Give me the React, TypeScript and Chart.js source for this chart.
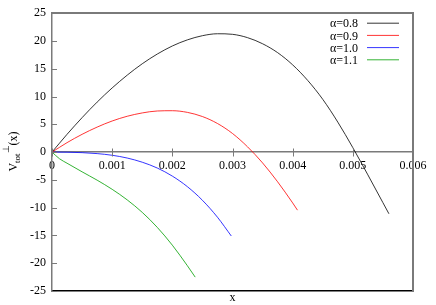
import React, { useEffect, useRef } from "react";
import { Chart, registerables } from "chart.js";

Chart.register(...registerables);

// ---- data ----
const X_08 = [0, 0.00025, 0.0005, 0.00075, 0.001, 0.00125, 0.0015, 0.00175, 0.002, 0.00225, 0.0025, 0.00275, 0.003, 0.00325, 0.0035, 0.00375, 0.004, 0.00425, 0.0045, 0.00475, 0.005, 0.00525, 0.0055, 0.0056];
const V_08 = [0, 3.2, 6.2, 9.0, 11.55, 13.85, 15.9, 17.65, 19.1, 20.2, 20.95, 21.3, 21.2, 20.6, 19.5, 17.9, 15.7, 12.9, 9.5, 5.4, 0.8, -4.1, -9.1, -11.1];

const X_09 = [0, 0.00025, 0.0005, 0.00075, 0.001, 0.00125, 0.0015, 0.00175, 0.002, 0.00225, 0.0025, 0.00275, 0.003, 0.00325, 0.0035, 0.00375, 0.004, 0.00408];
const V_09 = [0, 1.7, 3.2, 4.5, 5.6, 6.45, 7.05, 7.4, 7.45, 7.15, 6.4, 5.15, 3.35, 0.95, -1.95, -5.35, -9.15, -10.45];

const X_10 = [0, 0.00025, 0.0005, 0.00075, 0.001, 0.00125, 0.0015, 0.00175, 0.002, 0.00225, 0.0025, 0.00275, 0.00298];
const V_10 = [0, -0.02, -0.1, -0.27, -0.57, -1.07, -1.82, -2.87, -4.32, -6.22, -8.67, -11.72, -15.1];

const X_11 = [0, 0.000125, 0.00025, 0.0005, 0.00075, 0.001, 0.00125, 0.0015, 0.00175, 0.002, 0.00225, 0.00238];
const V_11 = [0, -1.2, -2.0, -3.55, -5.05, -6.7, -8.6, -10.85, -13.55, -16.75, -20.45, -22.5];

const SERIES_LABELS = ["α=0.8", "α=0.9", "α=1.0", "α=1.1"];
const SERIES_COLORS = ["#000000", "#ff0000", "#0000ff", "#00a000"];

const X_MIN = 0;
const X_MAX = 0.006;
const X_STEP = 0.001;
const Y_MIN = -25;
const Y_MAX = 25;
const Y_STEP = 5;

const X_TITLE = "x";
const Y_TITLE_PARTS = ["V", "tot", "⊥", "(x)"];

const FONT = '"Liberation Serif", "Times New Roman", serif';
const FRAME = "#7a7a7a";

const pairs = (xs: number[], ys: number[]) => xs.map((x, i) => ({ x, y: ys[i] }));

// gnuplot-style inward tick marks, placed through the chart's own scales
const tickMarksPlugin = {
  id: "gpTicks",
  afterDraw(chart: any) {
    const { ctx, chartArea, scales } = chart;
    const xs = scales.x;
    const ys = scales.y;
    const zeroY = Math.round(ys.getPixelForValue(0)) + 0.5;
    ctx.save();
    ctx.strokeStyle = FRAME;
    ctx.lineWidth = 1;
    ctx.beginPath();
    xs.ticks.forEach((t: any) => {
      const px = Math.round(xs.getPixelForValue(t.value)) + 0.5;
      ctx.moveTo(px, zeroY - 4);
      ctx.lineTo(px, zeroY + 4);
    });
    ys.ticks.forEach((t: any) => {
      const py = Math.round(ys.getPixelForValue(t.value)) + 0.5;
      ctx.moveTo(chartArea.left, py);
      ctx.lineTo(chartArea.left + 5, py);
    });
    ctx.stroke();
    ctx.restore();
  },
};

const legendPlugin = {
  id: "gpLegend",
  afterDraw(chart: any) {
    const { ctx, chartArea } = chart;
    ctx.save();
    ctx.font = `12px ${FONT}`;
    ctx.textAlign = "right";
    ctx.textBaseline = "middle";
    chart.data.datasets.forEach((ds: any, i: number) => {
      const y = chartArea.top + 10 + i * 12.2;
      ctx.fillStyle = "#000";
      ctx.fillText(ds.label, chartArea.right - 55, y + 1);
      ctx.strokeStyle = ds.borderColor;
      ctx.lineWidth = 0.8;
      ctx.beginPath();
      ctx.moveTo(chartArea.right - 46, y);
      ctx.lineTo(chartArea.right - 14, y);
      ctx.stroke();
    });
    ctx.restore();
  },
};

const yTitlePlugin = {
  id: "gpYTitle",
  afterDraw(chart: any) {
    const { ctx, chartArea } = chart;
    const cy = (chartArea.top + chartArea.bottom) / 2;
    ctx.save();
    ctx.translate(17, cy + 19.5);
    ctx.rotate(-Math.PI / 2);
    ctx.fillStyle = "#000";
    ctx.textAlign = "left";
    ctx.textBaseline = "alphabetic";
    let x = 0;
    ctx.font = `12px ${FONT}`;
    ctx.fillText(Y_TITLE_PARTS[0], x, 0);
    x += ctx.measureText(Y_TITLE_PARTS[0]).width;
    ctx.font = `9px ${FONT}`;
    ctx.fillText(Y_TITLE_PARTS[1], x, 3);
    x += ctx.measureText(Y_TITLE_PARTS[1]).width;
    ctx.fillText(Y_TITLE_PARTS[2], x, -8);
    x += ctx.measureText(Y_TITLE_PARTS[2]).width;
    ctx.font = `12px ${FONT}`;
    ctx.fillText(Y_TITLE_PARTS[3], x, 0);
    ctx.restore();
  },
};

export default function App() {
  const ref = useRef<HTMLCanvasElement>(null);
  useEffect(() => {
    if (!ref.current) return;
    const tickFont = { family: FONT, size: 12 };
    const chart = new Chart(ref.current, {
      type: "line",
      data: {
        datasets: [
          { label: SERIES_LABELS[0], data: pairs(X_08, V_08), borderColor: SERIES_COLORS[0] },
          { label: SERIES_LABELS[1], data: pairs(X_09, V_09), borderColor: SERIES_COLORS[1] },
          { label: SERIES_LABELS[2], data: pairs(X_10, V_10), borderColor: SERIES_COLORS[2] },
          { label: SERIES_LABELS[3], data: pairs(X_11, V_11), borderColor: SERIES_COLORS[3] },
        ].map((d) => ({
          ...d,
          backgroundColor: d.borderColor,
          borderWidth: 0.8,
          pointRadius: 0,
          fill: false,
          cubicInterpolationMode: "monotone" as const,
        })),
      },
      options: {
        animation: false,
        responsive: false,
        devicePixelRatio: 1,
        layout: { padding: 0 },
        plugins: { legend: { display: false }, tooltip: { enabled: false } },
        scales: {
          x: {
            type: "linear",
            position: { y: 0 } as any,
            min: X_MIN,
            max: X_MAX,
            ticks: {
              stepSize: X_STEP,
              autoSkip: false,
              maxRotation: 0,
              font: tickFont,
              color: "#000",
              padding: 7,
              callback: (v: any) => (Number(v) === 0 ? "0" : Number(v).toFixed(3)),
            },
            grid: { display: false, drawTicks: false },
            border: { display: true, color: FRAME, width: 1.5 },
          },
          xTop: {
            type: "linear",
            position: "top",
            min: X_MIN,
            max: X_MAX,
            ticks: { display: false },
            grid: { display: false },
            border: { display: true, color: FRAME, width: 2 },
            afterFit: (s: any) => { s.height = 12; },
          },
          xBottom: {
            type: "linear",
            position: "bottom",
            min: X_MIN,
            max: X_MAX,
            ticks: { display: false },
            grid: { display: false },
            border: { display: true, color: "#000", width: 1.5 },
            title: { display: true, text: X_TITLE, color: "#000", font: { family: FONT, size: 12, lineHeight: 1.2 }, padding: 0 },
            afterFit: (s: any) => { s.height = 14; },
          },
          y: {
            type: "linear",
            position: "left",
            min: Y_MIN,
            max: Y_MAX,
            ticks: {
              stepSize: Y_STEP,
              font: tickFont,
              color: "#000",
              padding: 6,
              callback: (v: any) => String(v),
            },
            grid: { display: false, drawTicks: false },
            border: { display: true, color: FRAME, width: 1.5 },
            afterFit: (s: any) => { s.width = 52; },
          },
          yRight: {
            type: "linear",
            position: "right",
            min: Y_MIN,
            max: Y_MAX,
            ticks: { display: false },
            grid: { display: false },
            border: { display: true, color: FRAME, width: 2 },
            afterFit: (s: any) => { s.width = 23; },
          },
        },
      },
      plugins: [tickMarksPlugin, legendPlugin, yTitlePlugin],
    } as any);
    return () => chart.destroy();
  }, []);
  return (
    <div style={{ position: "absolute", left: 0, top: 0, width: 436, height: 305, background: "#fff" }}>
      <canvas ref={ref} width={436} height={305} style={{ display: "block" }} />
    </div>
  );
}
